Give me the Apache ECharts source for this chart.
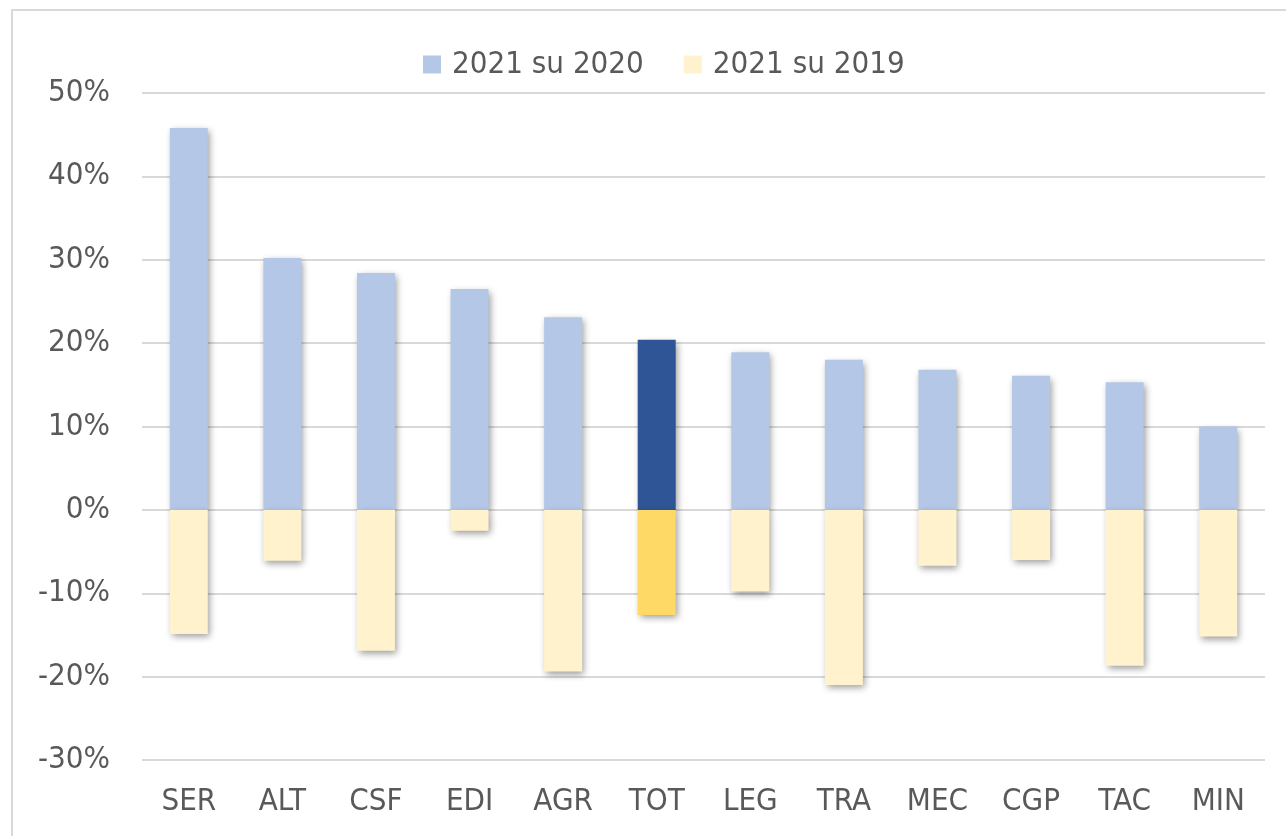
<!DOCTYPE html>
<html><head><meta charset="utf-8">
<script src="https://cdn.jsdelivr.net/npm/echarts@6/dist/echarts.min.js"></script>
<style>html,body{margin:0;padding:0;background:#fff}#c{width:1286px;height:836px}</style>
</head><body><div id="c"></div>
<script>
const categories = ['SER','ALT','CSF','EDI','AGR','TOT','LEG','TRA','MEC','CGP','TAC','MIN'];
const v2020 = [45.8, 30.2, 28.4, 26.5, 23.1, 20.4, 18.9, 18.0, 16.8, 16.1, 15.3, 10.0];
const v2019 = [-14.9, -6.1, -16.9, -2.5, -19.4, -12.6, -9.8, -21.0, -6.7, -6.0, -18.7, -15.2];
const seriesNames = ['2021 su 2020', '2021 su 2019'];
const highlight = 'TOT';

const font = '"DejaVu Sans Condensed", "DejaVu Sans", sans-serif';
const txt = '#595959';
const shadow = {shadowBlur: 7, shadowColor: 'rgba(0,0,0,0.4)', shadowOffsetX: 2, shadowOffsetY: 3};
function mk(vals, base, hi) {
  return vals.map((v, i) => ({value: v, itemStyle: Object.assign({color: categories[i] === highlight ? hi : base}, shadow)}));
}
const chart = echarts.init(document.getElementById('c'));
chart.setOption({
  animation: false,
  graphic: [{type: 'rect', shape: {x: 12, y: 10, width: 1290, height: 840}, style: {fill: 'none', stroke: '#d9d9d9', lineWidth: 2}, z: -1}],
  legend: {
    top: 44, left: 418, itemWidth: 18, itemHeight: 18, itemGap: 40, icon: 'rect',
    textStyle: {fontFamily: font, fontSize: 31, color: txt, padding: [0, 0, 0, 6]},
    data: seriesNames
  },
  grid: {left: 142, right: 21, top: 93, bottom: 76},
  xAxis: {
    type: 'category', data: categories,
    axisLine: {show: false}, axisTick: {show: false},
    axisLabel: {fontFamily: font, fontSize: 31, color: txt, margin: 26}
  },
  yAxis: {
    type: 'value', min: -30, max: 50, interval: 10,
    axisLabel: {formatter: '{value}%', fontFamily: font, fontSize: 31, color: txt, margin: 32},
    splitLine: {lineStyle: {color: '#d9d9d9', width: 2}},
    axisLine: {show: false}, axisTick: {show: false}
  },
  series: [
    {name: seriesNames[0], type: 'bar', barWidth: 38, barGap: '-100%', itemStyle: {color: '#b4c7e7'}, data: mk(v2020, '#b4c7e7', '#2f5597')},
    {name: seriesNames[1], type: 'bar', barWidth: 38, itemStyle: {color: '#fff2cc'}, data: mk(v2019, '#fff2cc', '#ffd966')}
  ]
});
</script></body></html>
